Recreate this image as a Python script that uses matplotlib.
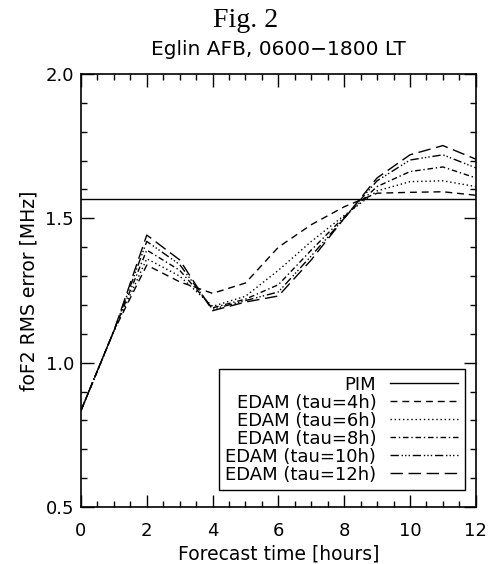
import matplotlib.pyplot as plt
import numpy as np
from matplotlib.ticker import MultipleLocator

# forecast hour
hours = [0, 1, 2, 3, 4, 5, 6, 7, 8, 9, 10, 11, 12]

pim_level = 1.566

tau4 = [0.834, 1.11, 1.338, 1.28, 1.24, 1.276, 1.40, 1.478, 1.54, 1.587, 1.590, 1.592, 1.58]
tau6 = [0.834, 1.11, 1.36, 1.30, 1.195, 1.23, 1.32, 1.42, 1.51, 1.595, 1.627, 1.63, 1.61]
tau8 = [0.834, 1.11, 1.39, 1.32, 1.19, 1.22, 1.27, 1.39, 1.505, 1.61, 1.662, 1.678, 1.64]
tau10 = [0.834, 1.11, 1.42, 1.34, 1.185, 1.215, 1.245, 1.37, 1.50, 1.63, 1.702, 1.72, 1.675]
tau12 = [0.834, 1.11, 1.442, 1.356, 1.18, 1.21, 1.231, 1.356, 1.50, 1.64, 1.72, 1.752, 1.705]

labels = ['PIM', 'EDAM (tau=4h)', 'EDAM (tau=6h)', 'EDAM (tau=8h)',
          'EDAM (tau=10h)', 'EDAM (tau=12h)']

plt.rcParams['font.family'] = 'DejaVu Sans'

fig = plt.figure(figsize=(4.89, 5.64), dpi=100)
ax = fig.add_axes([0.1656, 0.1011, 0.8074, 0.7677])

lw = 1.0
ax.axhline(pim_level, color='black', lw=lw, label=labels[0])
ax.plot(hours, tau4, color='black', lw=lw, dashes=(5, 3.5), label=labels[1])
ax.plot(hours, tau6, color='black', lw=lw, dashes=(1, 2), label=labels[2])
ax.plot(hours, tau8, color='black', lw=lw, dashes=(4, 2, 1, 2), label=labels[3])
ax.plot(hours, tau10, color='black', lw=lw, dashes=(6, 2, 1, 1.5, 1, 1.5, 1, 2), label=labels[4])
ax.plot(hours, tau12, color='black', lw=lw, dashes=(9, 4), label=labels[5])

ax.set_xlim(0, 12)
ax.set_ylim(0.5, 2.0)
ax.xaxis.set_major_locator(MultipleLocator(2))
ax.xaxis.set_minor_locator(MultipleLocator(0.5))
ax.yaxis.set_major_locator(MultipleLocator(0.5))
ax.yaxis.set_minor_locator(MultipleLocator(0.1))
ax.yaxis.set_major_formatter(plt.FormatStrFormatter('%.1f'))
ax.tick_params(which='both', direction='in', top=True, right=True, labelsize=13)
ax.tick_params(which='major', length=9, width=1)
ax.tick_params(which='minor', length=4.5, width=1)
ax.tick_params(axis='x', pad=11)
ax.tick_params(axis='y', pad=5)
for s in ax.spines.values():
    s.set_linewidth(1.2)

ax.set_xlabel('Forecast time [hours]', fontsize=13.5, labelpad=3)
ax.set_ylabel('foF2 RMS error [MHz]', fontsize=13.5, labelpad=5)
ax.set_title('Eglin AFB, 0600\u22121800 LT', fontsize=14.5, pad=14)
fig.text(0.503, 0.964, 'Fig. 2', family='Liberation Serif', fontsize=20,
         ha='center', va='center')

leg = ax.legend(loc='lower right', bbox_to_anchor=(0.972, 0.039), borderaxespad=0,
                markerfirst=False, fancybox=False, edgecolor='black', framealpha=1,
                fontsize=13, handlelength=3.8, labelspacing=0.0, borderpad=0.35,
                handletextpad=0.75)
leg.get_frame().set_linewidth(1.0)

plt.savefig('out.png', dpi=100)
